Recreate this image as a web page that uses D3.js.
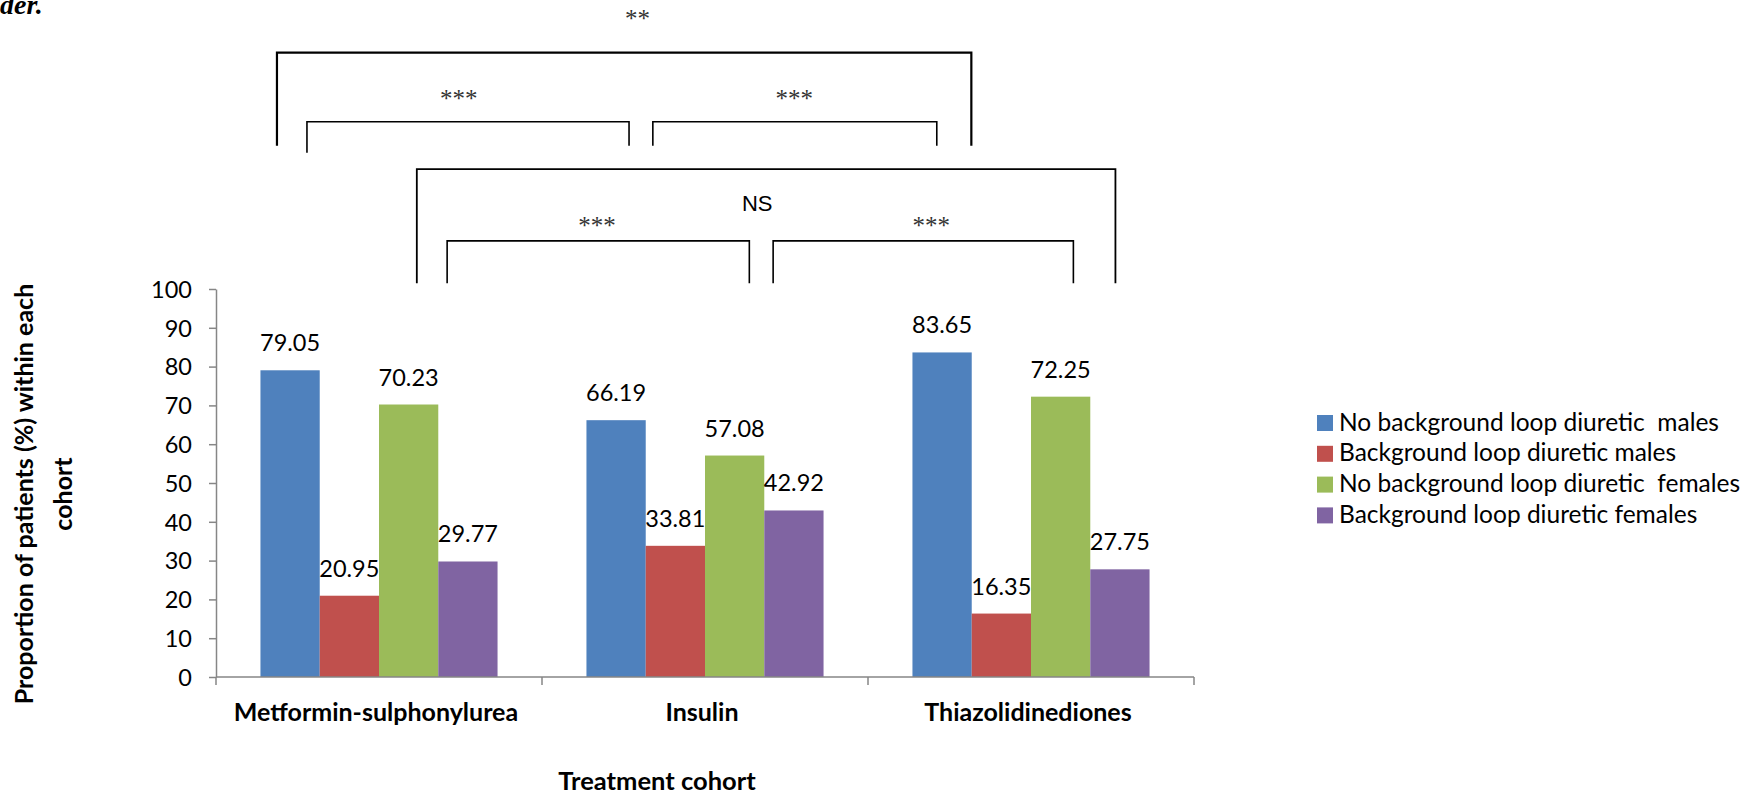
<!DOCTYPE html>
<html>
<head>
<meta charset="utf-8">
<script src="https://cdn.jsdelivr.net/npm/d3@7"></script>
<style>
  html, body { margin: 0; padding: 0; background: #fff; }
  svg text { white-space: pre; }
</style>
</head>
<body>
<svg id="chart" width="1757" height="795"></svg>
<script>
// Treatment cohorts on the x axis
const categories = ["Metformin-sulphonylurea", "Insulin", "Thiazolidinediones"];

// Series (percent of patients within each cohort)
const seriesNames = [
  "No background loop diuretic  males",
  "Background loop diuretic males",
  "No background loop diuretic  females",
  "Background loop diuretic females"
];
const noLoopMales   = [79.05, 66.19, 83.65];
const loopMales     = [20.95, 33.81, 16.35];
const noLoopFemales = [70.23, 57.08, 72.25];
const loopFemales   = [29.77, 42.92, 27.75];
const seriesColors  = ["#4F81BD", "#C0504D", "#9BBB59", "#8064A2"];

const yTicks = [0, 10, 20, 30, 40, 50, 60, 70, 80, 90, 100];

// Significance brackets, in category units (x) and value units (y)
const bracketX1   = [0.187, 0.279, 1.340, 0.616, 0.709, 1.709];
const bracketX2   = [2.317, 1.267, 2.211, 2.759, 1.636, 2.630];
const bracketTop  = [160.9, 143.1, 143.1, 130.9, 112.4, 112.4];
const bracketEndL = [136.9, 135.1, 136.9, 101.5, 101.5, 101.5];
const bracketEndR = [136.9, 136.9, 136.9, 101.5, 101.5, 101.5];
const bracketW    = [2.2, 1.6, 1.6, 1.8, 1.6, 1.6];
const bracketLabel  = ["**", "***", "***", "NS", "***", "***"];
const bracketLabelX = [1.293, 0.745, 1.774, 1.660, 1.169, 2.194];
const bracketLabelY = [167.5, 146.9, 146.9, 120.2, 114.3, 114.3];

const seriesValues = [noLoopMales, loopMales, noLoopFemales, loopFemales];
const rows = categories.map((c, i) => ({
  category: c,
  values: seriesNames.map((s, k) => ({ series: s, value: seriesValues[k][i], color: seriesColors[k] }))
}));

const svg = d3.select("#chart");
svg.append("rect").attr("width", 1757).attr("height", 795).attr("fill", "#fff");

const plotLeft = 216, plotRight = 1194, plotTop = 289, plotBottom = 677;
const font = "Lato, 'Open Sans', sans-serif";

const x0 = d3.scaleBand().domain(categories).range([plotLeft, plotRight]).paddingInner(0).paddingOuter(0);
const x1 = d3.scaleBand().domain(seriesNames).range([0, x0.bandwidth()]).paddingInner(0).paddingOuter(0.75);
const y = d3.scaleLinear().domain([0, 100]).range([plotBottom, plotTop]);
const xc = d3.scaleLinear().domain([0, categories.length]).range([plotLeft, plotRight]);

// Caption fragment at the top-left edge
svg.append("text")
  .attr("x", 0).attr("y", 14)
  .attr("font-family", "'Liberation Serif', 'DejaVu Serif', serif")
  .attr("font-size", 28).attr("font-weight", "bold").attr("font-style", "italic")
  .attr("fill", "#000")
  .text("der.");

// Bars
const groups = svg.append("g").selectAll("g").data(rows).join("g")
  .attr("transform", d => `translate(${x0(d.category)},0)`);

groups.selectAll("rect").data(d => d.values).join("rect")
  .attr("x", d => x1(d.series))
  .attr("y", d => y(d.value))
  .attr("width", x1.bandwidth())
  .attr("height", d => y(0) - y(d.value))
  .attr("fill", d => d.color);

groups.selectAll("text").data(d => d.values).join("text")
  .attr("x", d => x1(d.series) + x1.bandwidth() / 2)
  .attr("y", d => y(d.value) - 19)
  .attr("text-anchor", "middle")
  .attr("font-family", font).attr("font-size", 23.5).attr("fill", "#000")
  .text(d => d.value.toFixed(2));

// Y axis
const yAxis = svg.append("g")
  .attr("transform", `translate(${plotLeft},0)`)
  .call(d3.axisLeft(y).tickValues(yTicks).tickSize(7).tickSizeOuter(0).tickPadding(17));
yAxis.select(".domain").attr("stroke", "#868686").attr("stroke-width", 1.5);
yAxis.selectAll(".tick line").attr("stroke", "#868686").attr("stroke-width", 1.5);
yAxis.selectAll(".tick text")
  .attr("font-family", font).attr("font-size", 23.5).attr("fill", "#000")
  .attr("dy", "0.35em");

// Category axis: baseline plus ticks at band boundaries
const xAxis = svg.append("g");
xAxis.append("line")
  .attr("x1", plotLeft).attr("x2", plotRight)
  .attr("y1", y(0)).attr("y2", y(0))
  .attr("stroke", "#868686").attr("stroke-width", 1.5);
const boundaries = categories.map(c => x0(c)).concat([x0.range()[1]]);
xAxis.selectAll("line.tick").data(boundaries).join("line")
  .attr("class", "tick")
  .attr("x1", d => d).attr("x2", d => d)
  .attr("y1", y(0)).attr("y2", y(0) + 8)
  .attr("stroke", "#868686").attr("stroke-width", 1.5);
xAxis.selectAll("text").data(categories).join("text")
  .attr("x", d => x0(d) + x0.bandwidth() / 2 - 3)
  .attr("y", 721)
  .attr("text-anchor", "middle")
  .attr("font-family", font).attr("font-size", 25).attr("font-weight", "bold").attr("fill", "#000")
  .text(d => d);

// Axis titles
svg.append("text")
  .attr("x", 657).attr("y", 790)
  .attr("text-anchor", "middle")
  .attr("font-family", font).attr("font-size", 25.5).attr("font-weight", "bold").attr("fill", "#000")
  .text("Treatment cohort");

const yTitle = svg.append("text")
  .attr("transform", "translate(0,494) rotate(-90)")
  .attr("text-anchor", "middle")
  .attr("font-family", font).attr("font-size", 25).attr("font-weight", "bold").attr("fill", "#000");
yTitle.append("tspan").attr("x", 0).attr("y", 33).text("Proportion of patients (%) within each");
yTitle.append("tspan").attr("x", 0).attr("y", 72).text("cohort");

// Legend
const legend = svg.append("g").attr("transform", "translate(1317,415)");
const items = legend.selectAll("g").data(seriesNames).join("g")
  .attr("transform", (d, i) => `translate(0,${i * 30.8})`);
items.append("rect").attr("width", 16).attr("height", 16).attr("fill", (d, i) => seriesColors[i]);
items.append("text")
  .attr("x", 22).attr("y", 15.5)
  .attr("font-family", font).attr("font-size", 24.5).attr("fill", "#000")
  .text(d => d);

// Significance brackets
const br = svg.append("g").attr("fill", "none").attr("stroke", "#000");
bracketX1.forEach((bx, i) => {
  const path = d3.path();
  path.moveTo(xc(bx), y(bracketEndL[i]));
  path.lineTo(xc(bx), y(bracketTop[i]));
  path.lineTo(xc(bracketX2[i]), y(bracketTop[i]));
  path.lineTo(xc(bracketX2[i]), y(bracketEndR[i]));
  br.append("path").attr("d", path.toString()).attr("stroke-width", bracketW[i]);
});
svg.append("g").selectAll("text").data(bracketLabel).join("text")
  .attr("x", (d, i) => xc(bracketLabelX[i]))
  .attr("y", (d, i) => y(bracketLabelY[i]))
  .attr("text-anchor", "middle")
  .attr("font-family", d => d === "NS" ? "'Liberation Sans', Arial, sans-serif" : "'Liberation Serif', serif")
  .attr("font-size", d => d === "NS" ? 22 : 25)
  .attr("fill", d => d === "NS" ? "#000" : "#333")
  .text(d => d);
</script>
</body>
</html>
